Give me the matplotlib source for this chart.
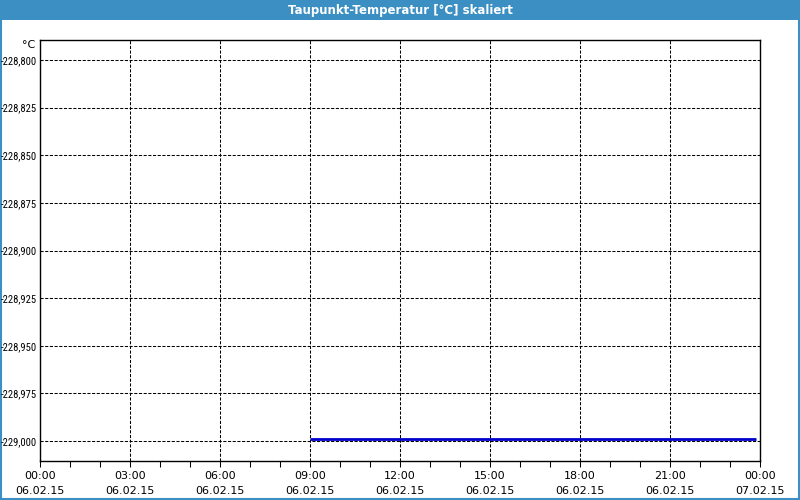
import matplotlib
matplotlib.use("Agg")
import matplotlib.pyplot as plt
from matplotlib.patches import Rectangle

title = "Taupunkt-Temperatur [°C] skaliert"
unit = "°C"
# time in hours since 06.02.15 00:00
times = [9.0, 23.87]
values = [-228.9991, -228.9991]
y_ticks = [-228.800, -228.825, -228.850, -228.875, -228.900, -228.925, -228.950, -228.975, -229.000]
x_ticks = [0, 3, 6, 9, 12, 15, 18, 21, 24]
x_labels = ["00:00\n06.02.15", "03:00\n06.02.15", "06:00\n06.02.15", "09:00\n06.02.15",
            "12:00\n06.02.15", "15:00\n06.02.15", "18:00\n06.02.15", "21:00\n06.02.15",
            "00:00\n07.02.15"]

W, H = 800, 500
fig = plt.figure(figsize=(8, 5), dpi=100)
fig.patch.set_facecolor("white")
blue = "#3c8fc3"

# title bar and border
fig.add_artist(Rectangle((0, 1 - 20 / H), 1, 20 / H, transform=fig.transFigure,
                         facecolor=blue, edgecolor="none", zorder=0))
fig.add_artist(Rectangle((1 / W, 1 / H), 1 - 2 / W, 1 - 1 / H, transform=fig.transFigure,
                         facecolor="none", edgecolor=blue, linewidth=1.5, zorder=0))
fig.text(0.5, 1 - 10.5 / H, title, color="white", fontsize=8.5, fontweight="bold",
         ha="center", va="center")

left, right, top, bottom = 40, 760, 40, 461
ax = fig.add_axes([left / W, 1 - bottom / H, (right - left) / W, (bottom - top) / H])
ax.set_facecolor("white")

ax.plot(times, values, color="#0000cc", linewidth=2, solid_capstyle="butt", zorder=3)

ax.set_xlim(0, 24)
ax.set_ylim(-229.0105, -228.7895)
ax.set_yticks(y_ticks)
ax.set_yticklabels([f"{v:.3f}".replace(".", ",") for v in y_ticks],
                   family=["Roboto Condensed", "Liberation Sans Narrow", "DejaVu Sans"],
                   fontsize=7.7)
ax.set_xticks(x_ticks)
ax.set_xticklabels(x_labels, linespacing=1.65, fontsize=8)
ax.set_xticks(range(0, 25), minor=True)

ax.grid(True, which="major", color="black", linestyle=(0, (3.0, 1.5)), linewidth=0.75)
ax.tick_params(axis="y", length=0, pad=2)
ax.tick_params(axis="x", which="both", length=4, direction="out", width=0.75, pad=3)
for s in ax.spines.values():
    s.set_linewidth(1)
    s.set_color("black")

fig.text(35 / W, 1 - 45 / H, unit, fontsize=8, ha="right", va="center")

fig.savefig("out.png", dpi=100)
